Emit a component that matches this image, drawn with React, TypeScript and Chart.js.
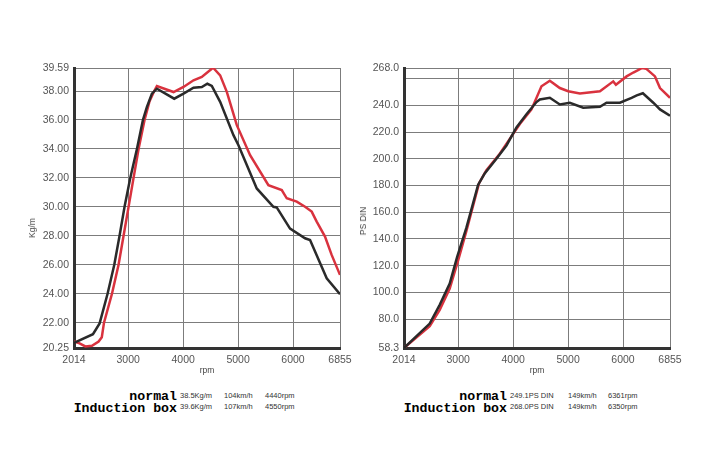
import { useEffect, useRef } from "react";
import { Chart, registerables } from "chart.js";

Chart.register(...registerables);

// rpm axis shared by both charts
const RPM_MIN = 2014;
const RPM_MAX = 6855;
const rpmTicks = [2014, 3000, 4000, 5000, 6000, 6855];

// torque (Kg/m)
const torqueTicks = [20.25, 22, 24, 26, 28, 30, 32, 34, 36, 38, 39.59];
const torqueNormalRpm = [2014, 2359, 2480, 2625, 2747, 2843, 2934, 3038, 3159, 3268, 3341, 3432, 3523, 3838, 4007, 4189, 4340, 4440, 4522, 4674, 4916, 5007, 5340, 5643, 5703, 5946, 6219, 6310, 6613, 6855];
const torqueNormal = [20.6, 21.2, 21.95, 24.0, 26.0, 28.0, 30.0, 32.0, 34.0, 36.0, 36.9, 37.82, 38.16, 37.47, 37.82, 38.23, 38.28, 38.5, 38.35, 37.25, 34.95, 34.26, 31.27, 30.0, 29.96, 28.5, 27.83, 27.71, 25.07, 23.97];
const torqueBoxRpm = [2014, 2099, 2220, 2341, 2462, 2520, 2560, 2705, 2825, 2916, 3007, 3098, 3189, 3298, 3389, 3474, 3523, 3826, 4007, 4189, 4340, 4522, 4550, 4674, 4795, 4977, 5219, 5552, 5795, 5886, 6068, 6219, 6340, 6431, 6582, 6703, 6855];
const torqueBox = [20.7, 20.6, 20.36, 20.4, 20.7, 21.0, 22.0, 24.0, 26.0, 28.0, 30.0, 32.0, 34.0, 36.0, 37.3, 38.0, 38.35, 37.93, 38.28, 38.74, 38.97, 39.54, 39.59, 39.08, 37.94, 35.64, 33.57, 31.5, 31.16, 30.59, 30.36, 30.01, 29.67, 28.98, 27.95, 26.68, 25.3];

// power (PS DIN)
const powerTicks = [58.3, 80, 100, 120, 140, 160, 180, 200, 220, 240, 260, 268];
const powerUnlabelled = 260;
const powerNormalRpm = [2014, 2482, 2664, 2846, 2980, 3150, 3362, 3483, 3696, 3879, 4061, 4243, 4425, 4486, 4668, 4850, 5032, 5275, 5580, 5700, 5944, 6156, 6250, 6361, 6551, 6673, 6855];
const powerNormal = [58.3, 76.6, 90.6, 106.6, 126.3, 148.4, 180.4, 189.0, 200.1, 210, 223.5, 233.4, 242.5, 244.4, 245.7, 240.7, 242, 238.3, 239, 242, 242, 245.7, 247.5, 249.1, 242, 237, 232.3];
const powerBoxRpm = [2014, 2482, 2664, 2846, 2998, 3150, 3380, 3514, 3757, 3939, 4122, 4334, 4516, 4668, 4850, 5002, 5215, 5336, 5580, 5822, 5871, 6065, 6187, 6350, 6420, 6582, 6673, 6855];
const powerBox = [58.3, 74.6, 86.9, 102.9, 123.8, 146, 181.7, 191.5, 203.8, 214.9, 226, 237, 254.3, 258.5, 253, 250.6, 248.9, 249.4, 250.6, 258, 255.5, 261.7, 264.6, 268.0, 267.5, 261.7, 253, 245.7];

// notes under the charts
const seriesNames = ["normal", "Induction box"];
const torqueNotes = [
  ["38.5Kg/m", "104km/h", "4440rpm"],
  ["39.6Kg/m", "107km/h", "4550rpm"],
];
const powerNotes = [
  ["249.1PS DIN", "149km/h", "6361rpm"],
  ["268.0PS DIN", "149km/h", "6350rpm"],
];

const RED = "#d9323e";
const BLACK = "#2a2a2a";
const GRID = "#7c7c7c";
const AXIS = "#333333";
const SANS = "'Liberation Sans', Arial, sans-serif";

const toPoints = (xs: number[], ys: number[]) => xs.map((x, i) => ({ x, y: ys[i] }));

interface PanelProps {
  left: number;
  width: number;
  padLeft: number;
  padRight: number;
  yMin: number;
  yMax: number;
  yTicks: number[];
  decimals: number;
  hiddenTick?: number;
  normalRpm: number[];
  normal: number[];
  boxRpm: number[];
  box: number[];
}

function DynoChart(p: PanelProps) {
  const canvasRef = useRef<HTMLCanvasElement>(null);

  useEffect(() => {
    const ctx = canvasRef.current?.getContext("2d");
    if (!ctx) return;
    const tickFont = { family: SANS, size: 10.5 };
    const chart = new Chart(ctx, {
      type: "line",
      data: {
        datasets: [
          {
            label: seriesNames[0],
            data: toPoints(p.normalRpm, p.normal),
            borderColor: BLACK,
            borderWidth: 2.5,
            pointRadius: 0,
            fill: false,
          },
          {
            label: seriesNames[1],
            data: toPoints(p.boxRpm, p.box),
            borderColor: RED,
            borderWidth: 2.5,
            pointRadius: 0,
            fill: false,
          },
        ],
      },
      options: {
        animation: false,
        responsive: true,
        maintainAspectRatio: false,
        layout: { padding: { left: p.padLeft, right: p.padRight, top: 68, bottom: 7 } },
        plugins: { legend: { display: false }, tooltip: { enabled: false } },
        scales: {
          x: {
            type: "linear",
            min: RPM_MIN,
            max: RPM_MAX,
            afterBuildTicks: (s: any) => {
              s.ticks = rpmTicks.map((v) => ({ value: v }));
            },
            afterFit: (s: any) => {
              s.height = 30;
            },
            ticks: {
              autoSkip: false,
              maxRotation: 0,
              padding: 6,
              font: tickFont,
              color: "#555",
              callback: (v: any) => String(v),
            },
            grid: { color: GRID, lineWidth: 1, drawTicks: false },
            border: { color: AXIS, width: 3 },
            title: {
              display: true,
              text: "rpm",
              color: "#444",
              font: { family: SANS, size: 8.5 },
              padding: { top: 0, bottom: 2 },
            },
          },
          y: {
            type: "linear",
            min: p.yMin,
            max: p.yMax,
            afterBuildTicks: (s: any) => {
              s.ticks = p.yTicks.map((v) => ({ value: v }));
            },
            afterFit: (s: any) => {
              s.width = 52;
            },
            ticks: {
              autoSkip: false,
              padding: 5,
              font: tickFont,
              color: "#555",
              callback: (v: any) => (v === p.hiddenTick ? "" : Number(v).toFixed(p.decimals)),
            },
            grid: { color: GRID, lineWidth: 1, drawTicks: false },
            border: { color: AXIS, width: 3 },
          },
        },
      },
    });
    return () => chart.destroy();
  }, []);

  return (
    <div style={{ position: "absolute", left: p.left, top: 0, width: p.width, height: 385 }}>
      <canvas ref={canvasRef} />
    </div>
  );
}

function AxisTitle({ text, x, y }: { text: string; x: number; y: number }) {
  return (
    <div
      style={{
        position: "absolute",
        left: x,
        top: y,
        transform: "translate(-50%, -50%) rotate(-90deg)",
        fontFamily: SANS,
        fontSize: 8.5,
        color: "#444",
        whiteSpace: "nowrap",
      }}
    >
      {text}
    </div>
  );
}

function Notes({ right, cols, rows }: { right: number; cols: number[]; rows: string[][] }) {
  const bigTops = [390, 401.5];
  const smallTops = [392, 403];
  return (
    <>
      {seriesNames.map((name, i) => (
        <div
          key={name}
          style={{
            position: "absolute",
            right: 702 - right,
            top: bigTops[i],
            fontFamily: "'Liberation Mono', 'DejaVu Sans Mono', monospace",
            fontWeight: "bold",
            fontSize: 13.25,
            lineHeight: "13.25px",
            color: "#000",
            whiteSpace: "pre",
          }}
        >
          {name}
        </div>
      ))}
      {rows.map((row, i) =>
        row.map((t, j) => (
          <div
            key={`${i}-${j}`}
            style={{
              position: "absolute",
              left: cols[j],
              top: smallTops[i],
              fontFamily: SANS,
              fontSize: 7.5,
              lineHeight: "7.5px",
              color: "#333",
              whiteSpace: "nowrap",
            }}
          >
            {t}
          </div>
        ))
      )}
    </>
  );
}

export default function App() {
  return (
    <div
      style={{
        position: "absolute",
        left: 0,
        top: 0,
        width: 702,
        height: 468,
        background: "#fff",
        overflow: "hidden",
      }}
    >
      <DynoChart
        left={0}
        width={362}
        padLeft={22}
        padRight={22}
        yMin={20.25}
        yMax={39.59}
        yTicks={torqueTicks}
        decimals={2}
        normalRpm={torqueNormalRpm}
        normal={torqueNormal}
        boxRpm={torqueBoxRpm}
        box={torqueBox}
      />
      <DynoChart
        left={342}
        width={360}
        padLeft={10}
        padRight={32}
        yMin={58.3}
        yMax={268}
        yTicks={powerTicks}
        decimals={1}
        hiddenTick={powerUnlabelled}
        normalRpm={powerNormalRpm}
        normal={powerNormal}
        boxRpm={powerBoxRpm}
        box={powerBox}
      />
      <AxisTitle text="Kg/m" x={32} y={228} />
      <AxisTitle text="PS DIN" x={363} y={221} />
      <Notes right={177} cols={[180, 224, 265]} rows={torqueNotes} />
      <Notes right={507} cols={[510, 568, 608]} rows={powerNotes} />
    </div>
  );
}
